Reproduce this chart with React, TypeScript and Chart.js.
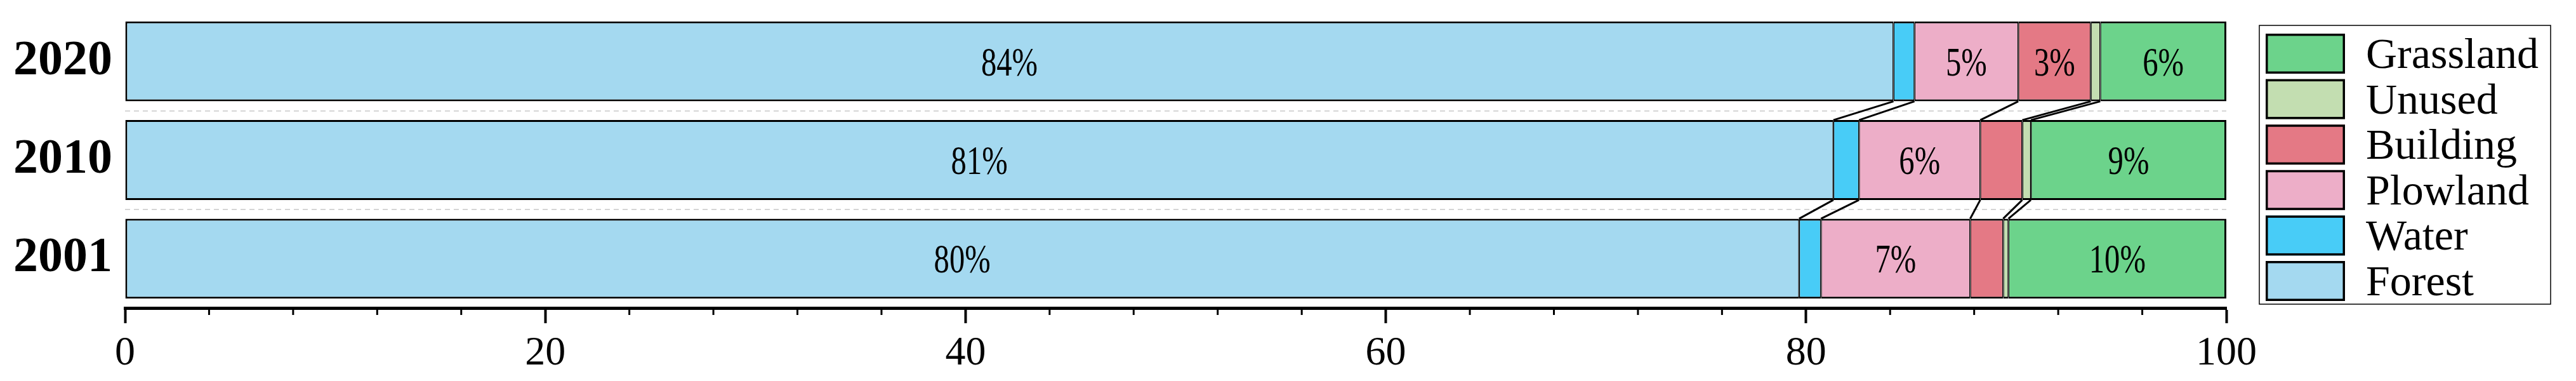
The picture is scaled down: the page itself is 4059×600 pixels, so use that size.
import React, { useEffect, useRef } from 'react';
import { Chart, registerables } from 'chart.js';

Chart.register(...registerables);

// ---- data ----
const years = ['2020', '2010', '2001'];
const forest = [84.16, 81.3, 79.67];
const water = [1.0, 1.22, 1.04];
const plowland = [4.94, 5.77, 7.1];
const building = [3.45, 2.0, 1.57];
const unused = [0.45, 0.41, 0.25];
const grassland = [6.0, 9.3, 10.37];
const seriesNames = ['Forest', 'Water', 'Plowland', 'Building', 'Unused', 'Grassland'];
const seriesData = [forest, water, plowland, building, unused, grassland];
const seriesColors = ['#A4D9F0', '#48CCF7', '#EDAEC8', '#E47985', '#C3DEB1', '#6CD38B'];
const xTickStep = 20;
const xMinorStep = 4;
const labelThreshold = 3;

const barLabels = {
  id: 'barLabels',
  afterDatasetsDraw(chart: any) {
    const ctx = chart.ctx;
    ctx.save();
    ctx.fillStyle = '#000';
    ctx.font = '64px "Liberation Serif", serif';
    ctx.textAlign = 'center';
    ctx.textBaseline = 'alphabetic';
    chart.data.datasets.forEach((ds: any, i: number) => {
      const meta = chart.getDatasetMeta(i);
      meta.data.forEach((el: any, j: number) => {
        const v = ds.data[j];
        if (v < labelThreshold) return;
        const cx = (el.x + el.base) / 2;
        const cy = el.y;
        ctx.save();
        ctx.translate(cx, cy + 22);
        ctx.scale(0.76, 1);
        ctx.fillText(Math.round(v) + '%', 0, 0);
        ctx.restore();
      });
    });
    ctx.restore();
  },
};

const connectors = {
  id: 'connectors',
  afterDatasetsDraw(chart: any) {
    const ctx = chart.ctx;
    ctx.save();
    ctx.strokeStyle = '#000';
    ctx.lineWidth = 3;
    const n = chart.data.datasets.length;
    for (let k = 0; k < n - 1; k++) {
      const meta = chart.getDatasetMeta(k);
      for (let j = 0; j < meta.data.length - 1; j++) {
        const up = meta.data[j];
        const lo = meta.data[j + 1];
        ctx.beginPath();
        ctx.moveTo(up.x, up.y + up.height / 2);
        ctx.lineTo(lo.x, lo.y - lo.height / 2);
        ctx.stroke();
      }
    }
    ctx.restore();
  },
};

const minorTicks = {
  id: 'minorTicks',
  afterDraw(chart: any) {
    const s = chart.scales.x;
    const ctx = chart.ctx;
    ctx.save();
    ctx.strokeStyle = '#000';
    ctx.lineWidth = 3;
    for (let v = s.min; v <= s.max; v += xMinorStep) {
      if (v % xTickStep === 0) continue;
      const x = s.getPixelForValue(v);
      ctx.beginPath();
      ctx.moveTo(x, s.top);
      ctx.lineTo(x, s.top + 11);
      ctx.stroke();
    }
    ctx.restore();
  },
};

const legendBox = {
  id: 'legendBox',
  afterDraw(chart: any) {
    const ctx = chart.ctx;
    const area = chart.chartArea;
    const left = area.right + 52;
    const top = 40;
    const width = 459;
    const height = 439;
    ctx.save();
    ctx.fillStyle = '#fff';
    ctx.fillRect(left, top, width, height);
    ctx.strokeStyle = '#000';
    ctx.lineWidth = 1.5;
    ctx.strokeRect(left, top, width, height);
    const ds = chart.data.datasets;
    const sw = 125;
    const sh = 63;
    const step = 71.6;
    for (let k = 0; k < ds.length; k++) {
      const d = ds[ds.length - 1 - k];
      const sx = left + 10;
      const sy = top + 13 + k * step;
      ctx.fillStyle = d.backgroundColor;
      ctx.fillRect(sx, sy, sw, sh);
      ctx.lineWidth = 3.5;
      ctx.strokeStyle = '#000';
      ctx.strokeRect(sx + 1.75, sy + 1.75, sw - 3.5, sh - 3.5);
      ctx.fillStyle = '#000';
      ctx.font = '68px "Liberation Serif", serif';
      ctx.textAlign = 'left';
      ctx.textBaseline = 'alphabetic';
      ctx.fillText(d.label, left + 168, sy + 54);
    }
    ctx.restore();
  },
};

export default function App() {
  const ref = useRef<HTMLCanvasElement | null>(null);
  useEffect(() => {
    if (!ref.current) return;
    const chart = new Chart(ref.current, {
      type: 'bar',
      data: {
        labels: years,
        datasets: seriesNames.map((name, i) => ({
          label: name,
          data: seriesData[i],
          backgroundColor: seriesColors[i],
          borderColor: '#000',
          borderWidth: { top: 3, bottom: 3, left: i === 0 ? 3 : 1.5, right: i === seriesNames.length - 1 ? 3 : 1.5 },
          borderSkipped: false,
          barPercentage: 0.81,
          categoryPercentage: 1,
          inflateAmount: 0,
        })),
      },
      options: {
        indexAxis: 'y',
        responsive: true,
        maintainAspectRatio: false,
        animation: false,
        layout: { padding: { left: 0, right: 551, top: 19, bottom: 0 } },
        plugins: { legend: { display: false }, tooltip: { enabled: false } },
        scales: {
          x: {
            type: 'linear',
            stacked: true,
            min: 0,
            max: 100,
            ticks: {
              stepSize: xTickStep,
              color: '#000',
              font: { size: 64, family: "'Liberation Serif', serif" },
              padding: 10,
              maxRotation: 0,
            },
            grid: { drawOnChartArea: false, drawTicks: true, tickLength: 24, tickWidth: 4, tickColor: '#000' },
            border: { display: true, color: '#000', width: 5 },
            afterFit: (s: any) => {
              s.height = 115;
            },
          },
          y: {
            type: 'category',
            stacked: true,
            offset: true,
            ticks: {
              color: '#000',
              font: { size: 78, weight: 'bold', family: "'Liberation Serif', serif" },
              padding: 20,
            },
            grid: {
              offset: true,
              drawTicks: false,
              color: (c: any) => (c.index === 1 || c.index === 2 ? '#c8c8c8' : 'rgba(0,0,0,0)'),
              lineWidth: 1.5,
            },
            border: { display: false, dash: [8, 6] },
            afterFit: (s: any) => {
              s.width = 197;
              s.paddingTop = 0;
              s.paddingBottom = 0;
            },
          },
        },
      } as any,
      plugins: [barLabels, connectors, minorTicks, legendBox],
    });
    return () => chart.destroy();
  }, []);
  return (
    <div style={{ position: 'fixed', left: 0, top: 0, width: 4059, height: 600, background: '#fff' }}>
      <canvas ref={ref} />
    </div>
  );
}
